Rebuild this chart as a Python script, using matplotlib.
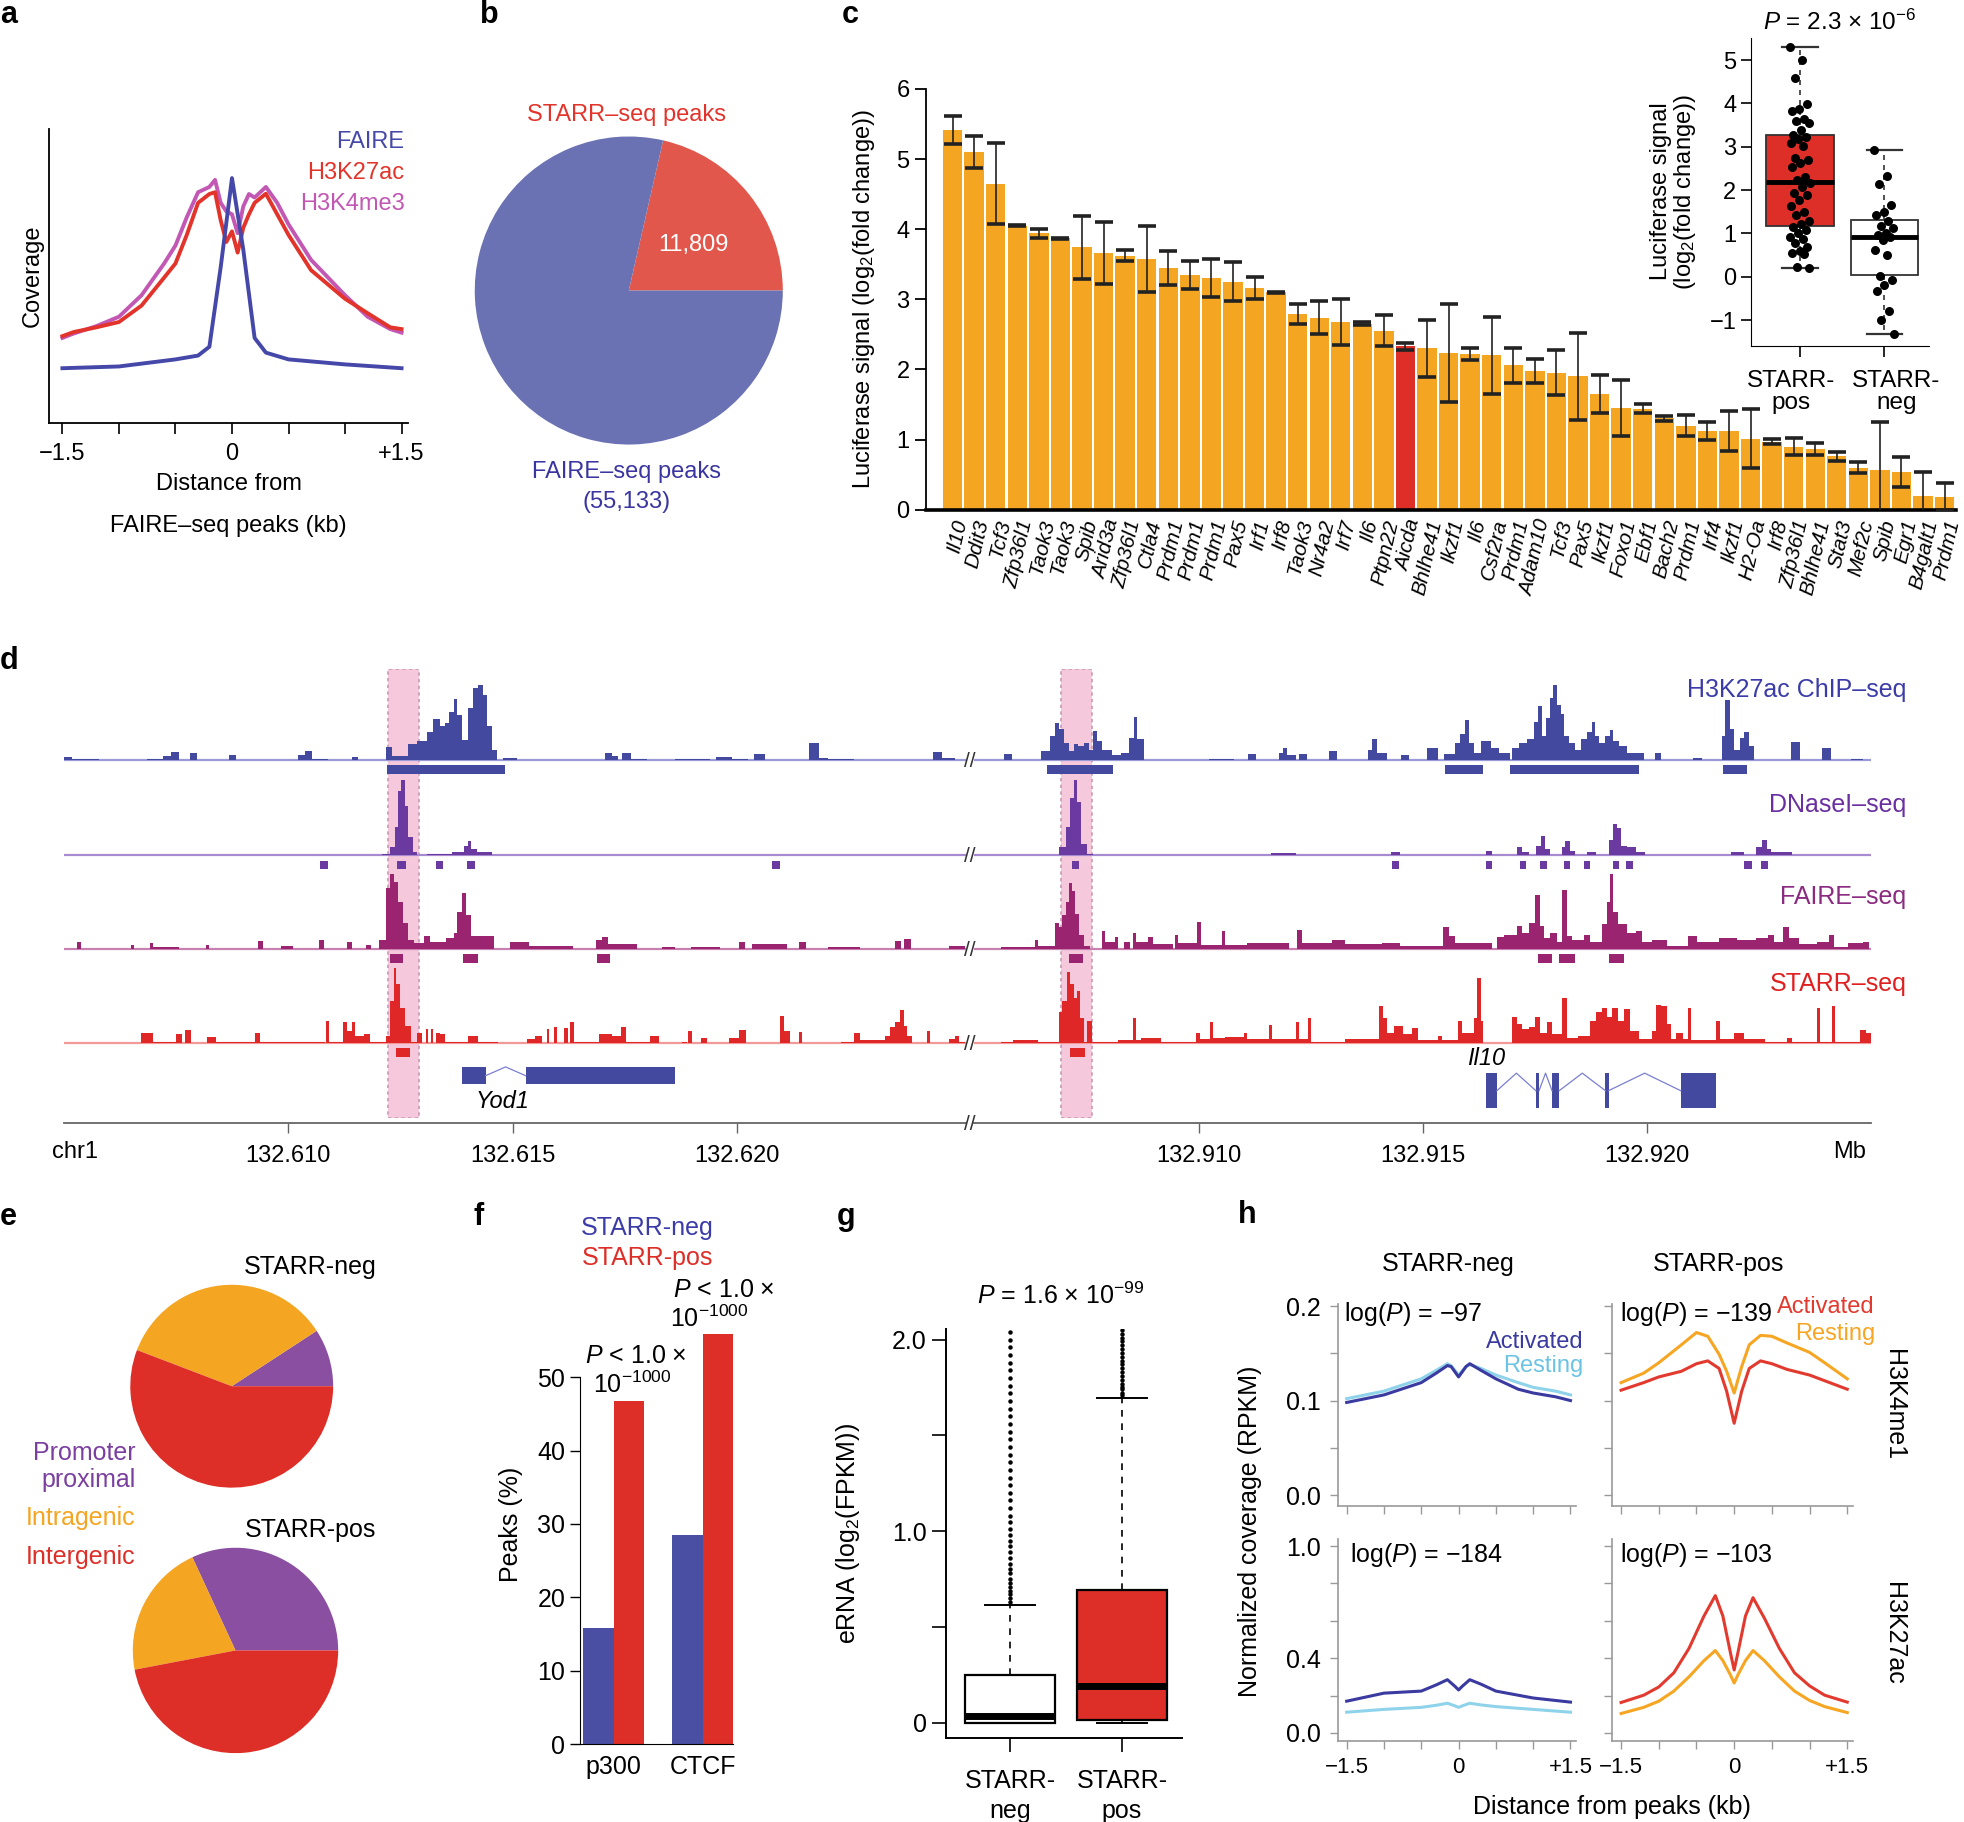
import numpy as np
import matplotlib
matplotlib.use('Agg')
import matplotlib.pyplot as plt
from matplotlib.patches import Rectangle

plt.rcParams['font.family'] = ['Liberation Sans', 'DejaVu Sans']
plt.rcParams['mathtext.fontset'] = 'custom'
plt.rcParams['mathtext.rm'] = 'Liberation Sans'
plt.rcParams['mathtext.it'] = 'Liberation Sans:italic'
plt.rcParams['axes.unicode_minus'] = True
NARROW = ['Liberation Sans', 'DejaVu Sans']

# ---------------- data ----------------
# panel a
a_faire_x = [-1.5, -1.0, -0.5, -0.3, -0.2, -0.1, 0, 0.1, 0.2, 0.3, 0.5, 1.0, 1.5]
a_faire_y = [0.187, 0.193, 0.217, 0.23, 0.26, 0.53, 0.833, 0.59, 0.29, 0.24, 0.217, 0.20, 0.187]
a_hist_x = [-1.5, -1.4, -1.2, -1.0, -0.8, -0.6, -0.5, -0.4, -0.3, -0.2, -0.15, -0.1, -0.05, 0,
            0.05, 0.1, 0.15, 0.2, 0.3, 0.4, 0.5, 0.7, 1.0, 1.2, 1.4, 1.5]
a_h3k27ac_y = [0.296, 0.31, 0.326, 0.344, 0.40, 0.495, 0.543, 0.64, 0.749, 0.779, 0.785, 0.69, 0.616,
               0.652, 0.58, 0.664, 0.71, 0.749, 0.78, 0.71, 0.64, 0.52, 0.423, 0.374, 0.326, 0.32]
a_h3k4me3_y = [0.29, 0.305, 0.33, 0.362, 0.435, 0.543, 0.604, 0.70, 0.785, 0.803, 0.827, 0.749, 0.72,
               0.71, 0.646, 0.737, 0.779, 0.767, 0.803, 0.749, 0.676, 0.555, 0.435, 0.362, 0.32, 0.308]

# panel b
faire_total = 55133
starr_peaks = 11809

# panel c
genes = ['Il10', 'Ddit3', 'Tcf3', 'Zfp36l1', 'Taok3', 'Taok3', 'Spib', 'Arid3a', 'Zfp36l1', 'Ctla4',
         'Prdm1', 'Prdm1', 'Prdm1', 'Pax5', 'Irf1', 'Irf8', 'Taok3', 'Nr4a2', 'Irf7', 'Il6',
         'Ptpn22', 'Aicda', 'Bhlhe41', 'Ikzf1', 'Il6', 'Csf2ra', 'Prdm1', 'Adam10', 'Tcf3', 'Pax5',
         'Ikzf1', 'Foxo1', 'Ebf1', 'Bach2', 'Prdm1', 'Irf4', 'Ikzf1', 'H2-Oa', 'Irf8', 'Zfp36l1',
         'Bhlhe41', 'Stat3', 'Mef2c', 'Spib', 'Egr1', 'B4galt1', 'Prdm1']
luc_mean = [5.42, 5.10, 4.65, 4.05, 3.94, 3.87, 3.74, 3.66, 3.62, 3.58,
            3.45, 3.35, 3.30, 3.25, 3.16, 3.10, 2.79, 2.74, 2.68, 2.65,
            2.55, 2.33, 2.30, 2.23, 2.22, 2.20, 2.06, 1.98, 1.95, 1.90,
            1.65, 1.45, 1.44, 1.30, 1.20, 1.12, 1.12, 1.01, 0.97, 0.90,
            0.86, 0.76, 0.60, 0.56, 0.54, 0.20, 0.18]
luc_err = [0.20, 0.23, 0.58, 0.01, 0.065, 0.01, 0.45, 0.44, 0.08, 0.47,
           0.24, 0.20, 0.27, 0.28, 0.155, 0.01, 0.14, 0.23, 0.33, 0.02,
           0.22, 0.05, 0.41, 0.70, 0.08, 0.55, 0.25, 0.17, 0.32, 0.62,
           0.27, 0.40, 0.065, 0.04, 0.15, 0.13, 0.28, 0.42, 0.04, 0.12,
           0.085, 0.06, 0.08, 0.69, 0.21, 0.34, 0.20]
highlight_gene = 'Aicda'
inset_groups = ['STARR-\npos', 'STARR-\nneg']
inset_pos_pts = [5.31, 5.0, 4.58, 3.98, 3.88, 3.83, 3.65, 3.6, 3.54, 3.38, 3.27, 3.22, 3.17, 3.08, 3.02,
                 2.73, 2.69, 2.62, 2.54, 2.31, 2.23, 2.17, 2.06, 1.94, 1.88, 1.77, 1.63, 1.5, 1.42,
                 1.29, 1.22, 1.15, 1.08, 1.02, 0.92, 0.86, 0.78, 0.69, 0.6, 0.55, 0.52, 0.23, 0.19]
inset_neg_pts = [2.93, 2.32, 2.15, 1.65, 1.50, 1.42, 1.28, 1.18, 1.12, 1.02, 0.97, 0.92, 0.85, 0.62,
                 0.50, 0.02, -0.08, -0.18, -0.32, -0.80, -1.00, -1.32]
inset_pos_stats = dict(med=2.18, q1=1.16, q3=3.27, whislo=0.20, whishi=5.30)
inset_neg_stats = dict(med=0.92, q1=0.03, q3=1.32, whislo=-1.32, whishi=2.93)

# panel d (offsets in kb from segment start; (start, end, height %))
seg_start_kb = [132605.0, 132905.0]
seg_len_kb = [20.1, 20.0]
h3k27ac_left = [(0.00, 0.18, 4), (0.18, 0.79, 1), (1.85, 2.21, 1), (2.21, 2.39, 5), (2.39, 2.56, 11),
                (2.80, 2.96, 10), (3.67, 3.84, 7), (5.21, 5.37, 7), (5.37, 5.54, 12), (5.54, 5.89, 2),
                (6.42, 6.56, 4), (7.17, 7.31, 17), (7.31, 7.67, 5), (7.67, 7.88, 22), (7.88, 8.09, 25),
                (8.09, 8.23, 38), (8.23, 8.38, 55), (8.38, 8.49, 45), (8.49, 8.59, 50), (8.59, 8.69, 64),
                (8.69, 8.77, 82), (8.77, 8.87, 60), (8.87, 9.01, 27), (9.01, 9.11, 69), (9.11, 9.23, 96),
                (9.23, 9.34, 100), (9.34, 9.44, 87), (9.44, 9.54, 45), (9.54, 9.65, 13), (9.79, 10.11, 3),
                (12.06, 12.21, 10), (12.21, 12.35, 5), (12.45, 12.63, 10), (12.63, 12.99, 2),
                (13.62, 14.40, 1), (14.54, 14.90, 4), (14.90, 15.25, 2), (15.39, 15.62, 8),
                (16.60, 16.82, 23), (16.82, 17.03, 3), (17.03, 17.60, 2), (19.37, 19.58, 11),
                (19.58, 19.87, 3)]
h3k27ac_right = [(0.66, 0.84, 8), (1.48, 1.69, 12), (1.69, 1.80, 32), (1.80, 1.89, 49), (1.89, 1.99, 42),
                 (1.99, 2.10, 23), (2.10, 2.21, 12), (2.21, 2.30, 21), (2.30, 2.44, 19), (2.44, 2.55, 23),
                 (2.55, 2.65, 14), (2.65, 2.74, 39), (2.74, 2.85, 25), (2.85, 3.06, 14), (3.06, 3.26, 7),
                 (3.26, 3.44, 9), (3.44, 3.55, 30), (3.55, 3.63, 58), (3.63, 3.77, 28), (5.23, 5.79, 1),
                 (6.09, 6.27, 8), (6.79, 6.89, 9), (6.89, 6.97, 16), (6.97, 7.16, 7), (7.24, 7.41, 8),
                 (7.91, 8.09, 12), (8.78, 8.87, 14), (8.87, 8.97, 28), (8.97, 9.21, 9), (9.51, 9.68, 7),
                 (10.10, 10.34, 16), (10.47, 10.72, 8), (10.72, 10.83, 23), (10.83, 10.94, 35),
                 (10.94, 11.02, 53), (11.02, 11.13, 23), (11.13, 11.29, 9), (11.29, 11.51, 25),
                 (11.51, 11.70, 16), (11.70, 11.95, 9), (11.98, 12.15, 16), (12.15, 12.33, 23),
                 (12.33, 12.47, 28), (12.47, 12.56, 51), (12.56, 12.66, 72), (12.66, 12.74, 32),
                 (12.74, 12.84, 56), (12.84, 12.91, 83), (12.91, 12.99, 100), (12.99, 13.07, 74),
                 (13.07, 13.15, 62), (13.15, 13.25, 32), (13.25, 13.39, 23), (13.39, 13.52, 14),
                 (13.52, 13.66, 28), (13.66, 13.76, 37), (13.76, 13.84, 51), (13.84, 13.93, 32),
                 (13.93, 14.07, 23), (14.07, 14.17, 32), (14.17, 14.25, 40), (14.25, 14.38, 25),
                 (14.38, 14.55, 19), (14.55, 14.75, 9), (14.75, 14.93, 10), (15.17, 15.30, 9),
                 (16.03, 16.22, 3), (16.67, 16.74, 32), (16.74, 16.85, 80), (16.85, 16.94, 42),
                 (16.94, 17.08, 14), (17.08, 17.17, 30), (17.17, 17.28, 38), (17.28, 17.39, 19),
                 (18.21, 18.41, 24), (18.90, 19.09, 16), (19.54, 19.82, 2)]
dnase_left = [(0.86, 1.00, 1), (5.75, 5.85, 1), (7.10, 7.27, 2), (7.27, 7.38, 11), (7.38, 7.45, 38),
              (7.45, 7.52, 85), (7.52, 7.60, 100), (7.60, 7.67, 66), (7.67, 7.78, 25), (7.78, 7.88, 4),
              (8.09, 8.66, 2), (8.66, 8.91, 5), (8.91, 9.01, 13), (9.01, 9.08, 19), (9.08, 9.20, 8),
              (9.20, 9.54, 4), (13.06, 13.20, 1), (15.82, 15.92, 1), (19.58, 19.72, 1)]
dnase_right = [(0.60, 1.89, 1), (1.89, 2.03, 11), (2.03, 2.13, 38), (2.13, 2.21, 76), (2.21, 2.29, 100),
               (2.29, 2.37, 71), (2.37, 2.51, 15), (2.51, 2.65, 2), (6.61, 7.16, 3), (9.28, 9.49, 4),
               (11.40, 11.54, 6), (12.09, 12.22, 11), (12.22, 12.36, 5), (12.52, 12.63, 13),
               (12.63, 12.73, 26), (12.73, 12.84, 8), (13.11, 13.18, 11), (13.18, 13.28, 19),
               (13.28, 13.39, 6), (13.66, 13.86, 5), (14.14, 14.23, 20), (14.23, 14.32, 41),
               (14.32, 14.41, 36), (14.41, 14.55, 13), (14.55, 14.75, 11), (14.75, 14.96, 4),
               (16.87, 17.15, 5), (17.42, 17.56, 11), (17.56, 17.67, 20), (17.67, 17.76, 8),
               (17.76, 18.24, 4)]
faire_left = [(0.29, 0.38, 9), (1.50, 1.57, 6), (1.92, 1.99, 8), (1.99, 2.56, 3), (3.16, 3.24, 6),
              (4.33, 4.43, 11), (4.83, 5.11, 4), (5.68, 5.79, 12), (6.32, 6.42, 10), (6.74, 6.84, 6),
              (7.03, 7.17, 12), (7.17, 7.27, 81), (7.27, 7.35, 100), (7.35, 7.45, 90), (7.45, 7.55, 63),
              (7.55, 7.67, 35), (7.67, 7.81, 12), (7.81, 8.02, 8), (8.02, 8.16, 17), (8.16, 8.52, 10),
              (8.52, 8.69, 15), (8.69, 8.77, 22), (8.77, 8.87, 49), (8.87, 8.97, 75), (8.97, 9.08, 45),
              (9.08, 9.23, 17), (9.23, 9.58, 17), (9.94, 10.36, 9), (10.36, 11.35, 4), (11.85, 11.99, 12),
              (11.99, 12.13, 16), (12.13, 12.77, 7), (13.34, 13.62, 3), (13.98, 14.62, 3),
              (15.04, 15.18, 10), (15.33, 16.11, 7), (16.39, 16.53, 10), (17.03, 17.74, 3),
              (18.52, 18.66, 11), (18.73, 18.87, 13), (19.72, 20.08, 4)]
faire_right = [(0.60, 1.35, 3), (1.35, 1.42, 12), (1.42, 1.80, 4), (1.80, 1.89, 35), (1.89, 1.96, 29),
               (1.96, 2.03, 45), (2.03, 2.10, 63), (2.10, 2.17, 88), (2.17, 2.24, 77), (2.24, 2.33, 47),
               (2.33, 2.44, 19), (2.44, 2.58, 4), (2.85, 2.92, 24), (2.92, 3.13, 9), (3.13, 3.19, 16),
               (3.33, 3.47, 10), (3.54, 3.60, 21), (3.60, 3.88, 10), (3.88, 3.99, 16), (3.99, 4.43, 7),
               (4.47, 4.53, 19), (4.53, 4.97, 8), (4.97, 5.05, 36), (5.05, 5.52, 6), (5.52, 5.59, 24),
               (5.59, 6.07, 6), (6.07, 7.02, 8), (7.19, 7.30, 26), (7.30, 7.98, 8), (7.98, 8.26, 12),
               (8.26, 9.08, 7), (9.08, 9.49, 8), (9.49, 10.45, 4), (10.45, 10.58, 30), (10.58, 10.72, 17),
               (10.72, 11.54, 8), (11.65, 11.81, 16), (11.81, 12.09, 19), (12.09, 12.22, 31),
               (12.22, 12.36, 22), (12.36, 12.50, 35), (12.50, 12.61, 72), (12.61, 12.70, 31),
               (12.70, 12.84, 15), (12.84, 12.98, 22), (12.98, 13.11, 10), (13.11, 13.21, 79),
               (13.21, 13.32, 17), (13.32, 13.59, 12), (13.59, 13.73, 19), (13.73, 14.00, 10),
               (14.00, 14.11, 33), (14.11, 14.18, 63), (14.18, 14.25, 100), (14.25, 14.34, 49),
               (14.34, 14.55, 33), (14.55, 14.75, 22), (14.75, 14.89, 24), (14.89, 15.10, 10),
               (15.10, 15.44, 12), (15.44, 15.92, 4), (15.92, 16.12, 17), (16.12, 16.60, 10),
               (16.60, 17.01, 15), (17.01, 17.42, 12), (17.42, 17.70, 15), (17.70, 17.83, 19),
               (17.83, 18.04, 10), (18.04, 18.17, 29), (18.17, 18.38, 15), (18.38, 18.79, 7),
               (18.79, 19.06, 10), (19.06, 19.16, 19), (19.16, 19.47, 3), (19.47, 19.82, 8),
               (19.82, 19.95, 10)]
starr_left = [(1.71, 1.99, 14), (1.99, 2.49, 2), (2.49, 2.63, 12), (2.70, 2.84, 18), (3.20, 3.38, 8),
              (3.38, 4.26, 1), (4.26, 4.36, 14), (4.36, 5.54, 1), (5.54, 5.82, 2), (5.85, 5.92, 30),
              (5.92, 6.21, 2), (6.21, 6.32, 28), (6.32, 6.42, 16), (6.42, 6.49, 28), (6.49, 6.70, 9),
              (6.70, 6.82, 12), (6.82, 7.17, 2), (7.17, 7.27, 9), (7.27, 7.35, 56), (7.35, 7.41, 100),
              (7.41, 7.50, 79), (7.50, 7.60, 47), (7.60, 7.74, 23), (7.74, 7.88, 2), (7.88, 7.98, 14),
              (8.06, 8.12, 19), (8.18, 8.23, 19), (8.30, 8.38, 14), (8.38, 8.49, 12), (8.49, 9.01, 2),
              (9.01, 9.23, 9), (9.23, 9.68, 2), (10.33, 10.50, 6), (10.50, 10.65, 9), (10.76, 10.82, 19),
              (10.93, 11.00, 21), (11.14, 11.24, 20), (11.28, 11.38, 28), (11.38, 11.92, 2),
              (11.92, 12.21, 12), (12.21, 12.42, 9), (12.42, 12.52, 22), (12.52, 13.06, 2),
              (13.06, 13.27, 9), (13.77, 13.88, 2), (13.91, 14.01, 16), (14.19, 14.33, 7),
              (14.83, 15.04, 7), (15.04, 15.21, 18), (15.96, 16.06, 36), (16.06, 16.18, 16),
              (16.39, 16.46, 15), (17.31, 17.60, 2), (17.60, 17.74, 14), (17.74, 18.30, 4),
              (18.30, 18.42, 9), (18.42, 18.52, 21), (18.52, 18.63, 28), (18.63, 18.73, 44),
              (18.73, 18.80, 23), (18.80, 18.90, 9), (19.23, 19.30, 16), (19.72, 19.87, 6),
              (19.87, 19.96, 10), (19.96, 20.08, 2)]
starr_right = [(0.60, 0.87, 1), (0.87, 1.42, 4), (1.42, 1.89, 2), (1.89, 1.96, 42), (1.96, 2.07, 56),
               (2.07, 2.14, 95), (2.14, 2.21, 79), (2.21, 2.28, 60), (2.28, 2.35, 70), (2.35, 2.44, 33),
               (2.44, 2.51, 2), (2.51, 2.62, 30), (2.62, 3.19, 2), (3.19, 3.54, 4), (3.54, 3.60, 33),
               (3.60, 3.71, 4), (3.71, 4.15, 7), (4.15, 4.95, 2), (4.95, 5.04, 14), (5.04, 5.25, 6),
               (5.25, 5.31, 28), (5.31, 5.59, 7), (5.59, 6.00, 8), (6.00, 6.07, 14), (6.07, 6.57, 5),
               (6.57, 6.64, 24), (6.64, 7.16, 6), (7.16, 7.23, 28), (7.23, 7.44, 5), (7.44, 7.50, 33),
               (7.50, 8.26, 2), (8.26, 9.01, 5), (9.01, 9.10, 49), (9.10, 9.19, 33), (9.19, 9.35, 14),
               (9.35, 9.56, 23), (9.56, 9.76, 12), (9.76, 9.90, 20), (9.90, 10.34, 4), (10.34, 10.42, 10),
               (10.42, 10.79, 4), (10.79, 10.88, 29), (10.88, 11.13, 14), (11.13, 11.21, 33),
               (11.21, 11.29, 86), (11.29, 11.33, 30), (11.98, 12.09, 35), (12.09, 12.22, 26),
               (12.22, 12.36, 19), (12.36, 12.50, 21), (12.50, 12.61, 35), (12.61, 12.77, 14),
               (12.77, 12.88, 28), (12.88, 13.11, 12), (13.11, 13.21, 60), (13.21, 13.45, 7),
               (13.45, 13.73, 9), (13.73, 13.86, 30), (13.86, 14.00, 42), (14.00, 14.10, 47),
               (14.10, 14.21, 35), (14.21, 14.34, 47), (14.34, 14.48, 29), (14.48, 14.62, 45),
               (14.62, 14.82, 16), (14.82, 15.10, 6), (15.10, 15.20, 16), (15.20, 15.30, 51),
               (15.30, 15.44, 49), (15.44, 15.53, 26), (15.53, 15.64, 6), (15.64, 15.81, 14),
               (15.81, 15.92, 6), (15.92, 15.98, 47), (15.98, 16.53, 4), (16.53, 16.63, 30),
               (16.63, 16.94, 6), (16.94, 17.15, 14), (17.15, 17.63, 6), (17.63, 18.13, 1),
               (18.13, 18.24, 7), (18.24, 18.79, 1), (18.79, 18.86, 47), (18.86, 19.13, 1),
               (19.13, 19.20, 50), (19.20, 19.75, 1), (19.75, 19.88, 18), (19.88, 19.99, 13)]
h3k27ac_peaks = [[(7.20, 9.84)], [(1.62, 3.09), (10.49, 11.33), (11.95, 14.82), (16.70, 17.22)]]
dnase_peaks = [[(5.71, 5.88), (7.43, 7.62), (8.30, 8.46), (8.98, 9.16), (15.78, 15.95)],
               [(2.17, 2.33), (9.31, 9.46), (11.40, 11.54), (12.16, 12.29), (12.62, 12.77),
                (13.15, 13.29), (13.59, 13.73), (14.25, 14.38), (14.52, 14.69), (17.17, 17.34),
                (17.53, 17.70)]]
faire_peaks = [[(7.27, 7.56), (8.89, 9.23), (11.88, 12.18)],
               [(2.10, 2.41), (12.56, 12.88), (13.04, 13.39), (14.14, 14.48)]]
starr_peaks_d = [[(7.41, 7.71)], [(2.13, 2.47)]]
highlight_kb = [(7.23, 7.91), (1.92, 2.62)]
yod1_exons = [(8.87, 9.40), (10.29, 13.62)]
il10_exons = [(11.40, 11.65), (12.52, 12.59), (12.88, 13.04), (14.07, 14.14), (15.75, 16.53)]
axis_ticks_mb = [[132.610, 132.615, 132.620], [132.910, 132.915, 132.920]]

# panel e
region_labels = ['Promoter proximal', 'Intragenic', 'Intergenic']
e_neg_frac = [9.2, 35.0, 55.8]
e_pos_frac = [31.9, 21.1, 47.0]

# panel f
f_groups = ['p300', 'CTCF']
f_neg = [15.8, 28.5]
f_pos = [46.7, 55.8]

# panel g
g_neg_stats = dict(med=0.036, q1=0.0, q3=0.249, whislo=0.0, whishi=0.617)
g_pos_stats = dict(med=0.19, q1=0.017, q3=0.695, whislo=0.0, whishi=1.697)
g_neg_fliers = [0.63, 0.65, 0.67, 0.69, 0.71, 0.73, 0.75, 0.78, 0.80, 0.83, 0.86, 0.89, 0.92, 0.95, 0.98,
                1.01, 1.05, 1.08, 1.12, 1.16, 1.20, 1.24, 1.28, 1.32, 1.36, 1.40, 1.44, 1.48, 1.52, 1.56,
                1.60, 1.64, 1.68, 1.72, 1.76, 1.80, 1.84, 1.88, 1.92, 1.96, 2.00, 2.04]
g_pos_fliers = [1.71, 1.72, 1.74, 1.75, 1.77, 1.79, 1.81, 1.83, 1.85, 1.87, 1.89, 1.91, 1.93, 1.95,
                1.97, 1.99, 2.01, 2.03, 2.05]

# panel h
h_tl_x = [-1.5, -1.0, -0.5, -0.3, -0.15, -0.1, 0, 0.1, 0.15, 0.3, 0.5, 0.8, 1.0, 1.3, 1.5]
h_tl_act = [0.098, 0.106, 0.119, 0.129, 0.137, 0.136, 0.125, 0.136, 0.139, 0.132, 0.123, 0.112, 0.108, 0.104, 0.100]
h_tl_rest = [0.102, 0.110, 0.123, 0.132, 0.139, 0.137, 0.127, 0.136, 0.138, 0.134, 0.127, 0.119, 0.114, 0.110, 0.106]
h_tr_x = [-1.5, -1.2, -1.0, -0.7, -0.5, -0.35, -0.2, -0.1, 0, 0.1, 0.2, 0.35, 0.5, 0.7, 1.0, 1.2, 1.5]
h_tr_rest = [0.119, 0.129, 0.140, 0.159, 0.172, 0.168, 0.149, 0.131, 0.108, 0.136, 0.159, 0.169, 0.168, 0.161, 0.151, 0.140, 0.123]
h_tr_act = [0.111, 0.119, 0.125, 0.131, 0.139, 0.142, 0.134, 0.110, 0.076, 0.110, 0.134, 0.142, 0.139, 0.133, 0.127, 0.121, 0.112]
h_bl_x = [-1.5, -1.0, -0.5, -0.3, -0.15, -0.05, 0, 0.05, 0.15, 0.3, 0.5, 1.0, 1.5]
h_bl_act = [0.170, 0.213, 0.224, 0.257, 0.285, 0.250, 0.230, 0.250, 0.285, 0.261, 0.224, 0.187, 0.165]
h_bl_rest = [0.111, 0.126, 0.137, 0.148, 0.159, 0.145, 0.137, 0.145, 0.159, 0.150, 0.141, 0.126, 0.111]
h_br_x = [-1.5, -1.2, -1.0, -0.8, -0.6, -0.4, -0.25, -0.15, -0.05, 0, 0.05, 0.15, 0.25, 0.4, 0.6, 0.8, 1.0, 1.2, 1.5]
h_br_act = [0.163, 0.202, 0.246, 0.322, 0.452, 0.626, 0.735, 0.626, 0.430, 0.337, 0.430, 0.626, 0.724, 0.615, 0.452, 0.322, 0.252, 0.202, 0.165]
h_br_rest = [0.104, 0.137, 0.170, 0.224, 0.300, 0.387, 0.441, 0.387, 0.311, 0.267, 0.311, 0.387, 0.441, 0.387, 0.300, 0.224, 0.174, 0.141, 0.109]

# ---------------- colours ----------------
BLUE = '#4a4fa3'
RED = '#dd2e27'
ORANGE = '#f4a521'
PURPLE = '#8a4fa0'
MAGENTA = '#c257b4'

W, H = 1568, 1455
fig = plt.figure(figsize=(19.64, 18.22), dpi=100)


def fa(x0, y0, x1, y1, **kw):
    return fig.add_axes([x0 / W, 1 - y1 / H, (x1 - x0) / W, (y1 - y0) / H], **kw)


def ft(x, y, s, **kw):
    return fig.text(x / W, 1 - y / H, s, **kw)


def panel_label(x, y, s):
    ft(x, y, s, fontsize=22, fontweight='bold', ha='left', va='center')


TIMES = '\u00d7'
MINUS = '\u2212'

# ---------------- panel a ----------------
panel_label(0, 12, 'a')
ax = fa(39, 103, 326, 338)
ax.plot(a_hist_x, a_h3k4me3_y, color=MAGENTA, lw=2.8)
ax.plot(a_hist_x, a_h3k27ac_y, color='#e2342b', lw=2.8)
ax.plot(a_faire_x, a_faire_y, color='#4548a8', lw=2.8)
ax.set_xlim(-1.62, 1.56)
ax.set_ylim(0, 1)
ax.set_yticks([])
ax.set_xticks([-1.5, -1.0, -0.5, 0, 0.5, 1.0, 1.5])
ax.set_xticklabels([MINUS + '1.5', '', '', '0', '', '', '+1.5'], fontsize=17)
ax.tick_params(axis='x', length=8, width=1.2, pad=6)
for s in ['top', 'right']:
    ax.spines[s].set_visible(False)
for s in ['left', 'bottom']:
    ax.spines[s].set_linewidth(1.3)
ax.set_ylabel('Coverage', fontsize=17, labelpad=4)
ax.set_xlabel('Distance from\n\nFAIRE\u2013seq peaks (kb)', fontsize=17, linespacing=0.95, labelpad=6)
ft(323, 113, 'FAIRE', color='#4548a8', fontsize=17, ha='right', va='center')
ft(323, 138, 'H3K27ac', color='#e2342b', fontsize=17, ha='right', va='center')
ft(323, 163, 'H3K4me3', color=MAGENTA, fontsize=17, ha='right', va='center')

# ---------------- panel b ----------------
panel_label(383, 12, 'b')
ax = fa(379, 109, 625, 355)
ax.pie([starr_peaks, faire_total - starr_peaks], colors=['#e2574c', '#6b72b3'],
       startangle=0, counterclock=True, radius=1.0)
ax.set_xlim(-1.0, 1.0)
ax.set_ylim(-1.0, 1.0)
ax.set_aspect('equal')
ft(554, 196, f'{starr_peaks:,}', color='white', fontsize=17, ha='center', va='center')
ft(500, 92, 'STARR\u2013seq peaks', color='#e2342b', fontsize=17, ha='center', va='center')
ft(500, 377, 'FAIRE\u2013seq peaks', color='#3a35a0', fontsize=17, ha='center', va='center')
ft(500, 401, f'({faire_total:,})', color='#3a35a0', fontsize=17, ha='center', va='center')

# ---------------- panel c ----------------
panel_label(672, 12, 'c')
ax = fa(739, 71, 1562, 407)
xs = np.arange(len(genes))
cols = [RED if g == highlight_gene else ORANGE for g in genes]
ax.bar(xs, luc_mean, width=0.9, color=cols, linewidth=0, zorder=2)
ax.errorbar(xs, luc_mean, yerr=luc_err, fmt='none', ecolor='#222222', elinewidth=1.2,
            capsize=6.5, capthick=2.6, zorder=3)
ax.set_xlim(-1.25, 46.55)
ax.set_ylim(0, 6)
ax.set_yticks(range(7))
ax.tick_params(axis='y', labelsize=17, length=8, width=1.3)
ax.set_xticks(xs)
ax.set_xticklabels(genes, rotation=77, fontstyle='italic', fontsize=15, ha='right',
                   va='top', rotation_mode='anchor')
ax.tick_params(axis='x', length=0, pad=6)
for s in ['top', 'right']:
    ax.spines[s].set_visible(False)
ax.spines['left'].set_linewidth(1.3)
ax.spines['bottom'].set_linewidth(2.6)
ax.set_ylabel('Luciferase signal (log$_2$(fold change))', fontsize=17, labelpad=14)

# inset box plot
ax = fa(1398, 30, 1540, 276)
bp = ax.bxp([dict(inset_pos_stats, fliers=[]), dict(inset_neg_stats, fliers=[])], positions=[1, 2],
            widths=0.8, patch_artist=True, showfliers=False, capwidths=0.42,
            boxprops=dict(linewidth=1.3, edgecolor='#333333'),
            medianprops=dict(color='black', linewidth=3.5),
            whiskerprops=dict(linestyle=(0, (3, 3)), linewidth=1.2, color='#333333'),
            capprops=dict(linewidth=1.6, color='#333333'))
bp['boxes'][0].set_facecolor(RED)
bp['boxes'][1].set_facecolor('white')
for k, pts in enumerate([inset_pos_pts, inset_neg_pts]):
    jit = [((i * 0.6180339) % 1.0 - 0.5) * 0.24 for i in range(len(pts))]
    ax.scatter(np.array(jit) + k + 1, pts, s=42, color='black', zorder=4, linewidths=0)
ax.set_xlim(0.42, 2.53)
ax.set_ylim(-1.59, 5.52)
ax.set_yticks(range(-1, 6))
ax.set_xticks([1, 2])
ax.set_xticklabels([])
ax.tick_params(axis='y', labelsize=17, length=7, width=1.2)
ax.tick_params(axis='x', length=8, width=1.2)
for s in ['top', 'right']:
    ax.spines[s].set_visible(False)
ax.set_ylabel('Luciferase signal\n(log$_2$(fold change))', fontsize=17, labelpad=8, linespacing=1.0)
ft(1430, 313, inset_groups[0], fontsize=17.5, ha='center', va='center', linespacing=1.05)
ft(1514, 313, inset_groups[1], fontsize=17.5, ha='center', va='center', linespacing=1.05)
ft(1469, 18, '$P$ = 2.3 ' + TIMES + ' 10$^{-6}$', fontsize=17.5, ha='center', va='center')

# ---------------- panel d ----------------
panel_label(0, 528, 'd')
seg_x = [(51, 771), (778, 1494)]
track_specs = [
    ('H3K27ac ChIP\u2013seq', [h3k27ac_left, h3k27ac_right], h3k27ac_peaks, '#4449a0', '#9a9ad8', '#3c3ca8', 607, 551),
    ('DNaseI\u2013seq', [dnase_left, dnase_right], dnase_peaks, '#6b3aa0', '#a88ad0', '#6a2fa0', 683, 643),
    ('FAIRE\u2013seq', [faire_left, faire_right], faire_peaks, '#9b2470', '#c880b0', '#8a2a80', 758, 716),
    ('STARR\u2013seq', [starr_left, starr_right], starr_peaks_d, '#e02727', '#f29a9a', '#e02020', 833, 786),
]


def seg_xlim(k):
    return (seg_start_kb[k] / 1000, (seg_start_kb[k] + seg_len_kb[k]) / 1000)


for k in range(2):
    axh = fa(seg_x[k][0], 534, seg_x[k][1], 893)
    axh.set_xlim(*seg_xlim(k))
    axh.set_ylim(0, 1)
    axh.axis('off')
    s0, s1 = highlight_kb[k]
    axh.add_patch(Rectangle(((seg_start_kb[k] + s0) / 1000, 0), (s1 - s0) / 1000, 1,
                            facecolor='#f5c8dc', edgecolor='#c89ab4', linestyle=(0, (2, 2)),
                            linewidth=1.2, zorder=0))

for name, data, peaks, col, basecol, labcol, yb, ylab in track_specs:
    for k in range(2):
        axt = fa(seg_x[k][0], yb - 61.5, seg_x[k][1], yb + 14)
        axt.patch.set_alpha(0)
        axt.set_xlim(*seg_xlim(k))
        axt.set_ylim(-23.3, 102.5)
        axt.axis('off')
        axt.axhline(0, color=basecol, lw=1.6, zorder=1)
        st = seg_start_kb[k]
        for s, e, h in data[k]:
            axt.bar((st + s) / 1000, h, width=(e - s) / 1000, align='edge', color=col,
                    linewidth=0, zorder=2)
        for s, e in peaks[k]:
            axt.add_patch(Rectangle(((st + s) / 1000, -18), (e - s) / 1000, 11, facecolor=col,
                                    edgecolor='none', zorder=2))
    ft(1522, ylab, name, color=labcol, fontsize=18, ha='right', va='center', family=NARROW)
    ft(774, yb + 1, '//', fontsize=15, ha='center', va='center', color='#333333', family=NARROW)

for k, exons, gname, ex_top, ex_bot, lab_y in [(0, yod1_exons, 'Yod1', 852, 866, 880),
                                              (1, il10_exons, 'Il10', 857, 885, 845)]:
    axg = fa(seg_x[k][0], 838, seg_x[k][1], 893)
    axg.patch.set_alpha(0)
    axg.set_xlim(*seg_xlim(k))
    axg.set_ylim(893, 838)
    axg.axis('off')
    st = seg_start_kb[k]
    mid = (ex_top + ex_bot) / 2
    for s, e in exons:
        axg.add_patch(Rectangle(((st + s) / 1000, ex_top), (e - s) / 1000, ex_bot - ex_top,
                                facecolor='#4449a0', edgecolor='none'))
    for (s0, e0), (s1, e1) in zip(exons[:-1], exons[1:]):
        xa, xb = (st + e0) / 1000, (st + s1) / 1000
        axg.plot([xa, (xa + xb) / 2, xb], [mid, ex_top, mid], color='#7a7fd0', lw=0.9)
    lab_x = (st + exons[0][0]) / 1000 + (0.0009 if k == 0 else 0.0)
    axg.text(lab_x, lab_y, gname, fontstyle='italic', fontsize=17, ha='center', va='center',
             family=NARROW)

for k in range(2):
    axs = fa(seg_x[k][0], 880, seg_x[k][1], 897)
    axs.patch.set_alpha(0)
    axs.set_xlim(*seg_xlim(k))
    axs.set_yticks([])
    for s in ['top', 'right', 'left']:
        axs.spines[s].set_visible(False)
    axs.spines['bottom'].set_color('#666666')
    axs.spines['bottom'].set_linewidth(1.3)
    axs.set_xticks(axis_ticks_mb[k])
    axs.set_xticklabels([f'{t:.3f}' for t in axis_ticks_mb[k]], fontsize=17, family=NARROW)
    axs.tick_params(axis='x', length=7, width=1.0, color='#666666', pad=9)
ft(774, 898, '//', fontsize=15, ha='center', va='center', color='#333333', family=NARROW)
ft(60, 920, 'chr1', fontsize=17, ha='center', va='center', family=NARROW)
ft(1477, 920, 'Mb', fontsize=17, ha='center', va='center', family=NARROW)

# ---------------- panel e ----------------
panel_label(0, 972, 'e')
pie_cols = [PURPLE, ORANGE, RED]
for frac, box in [(e_neg_frac, (104, 1026, 266, 1188)), (e_pos_frac, (106, 1236, 270, 1400))]:
    ax = fa(*box)
    ax.pie(frac, colors=pie_cols, startangle=0, counterclock=True)
    ax.set_xlim(-1.0, 1.0)
    ax.set_ylim(-1.0, 1.0)
    ax.set_aspect('equal')
ft(248, 1012, 'STARR-neg', fontsize=18, ha='center', va='center', family=NARROW)
ft(248, 1222, 'STARR-pos', fontsize=18, ha='center', va='center', family=NARROW)
ft(108, 1160, 'Promoter', color='#7b3fa0', fontsize=18, ha='right', va='center', family=NARROW)
ft(108, 1182, 'proximal', color='#7b3fa0', fontsize=18, ha='right', va='center', family=NARROW)
ft(108, 1212, region_labels[1], color=ORANGE, fontsize=18, ha='right', va='center', family=NARROW)
ft(108, 1243, region_labels[2], color=RED, fontsize=18, ha='right', va='center', family=NARROW)

# ---------------- panel f ----------------
panel_label(378, 972, 'f')
ax = fa(463, 1041, 585, 1393)
gx = np.arange(len(f_groups))
ax.bar(gx - 0.17, f_neg, width=0.34, color=BLUE, linewidth=0)
ax.bar(gx + 0.17, f_pos, width=0.34, color=RED, linewidth=0)
ax.set_xlim(-0.38, 1.34)
ax.set_ylim(0, 60)
ax.set_yticks([0, 10, 20, 30, 40, 50])
ax.spines['left'].set_bounds(0, 50)
for s in ['top', 'right']:
    ax.spines[s].set_visible(False)
ax.set_xticks(gx)
ax.set_xticklabels(f_groups, fontsize=18, family=NARROW)
ax.tick_params(axis='x', length=0, pad=8)
ax.tick_params(axis='y', labelsize=18, length=7, width=1.0)
ax.set_ylabel('Peaks (%)', fontsize=18, labelpad=10)
ft(517, 981, 'STARR-neg', color='#3c3ca8', fontsize=18, ha='center', va='center', family=NARROW)
ft(517, 1005, 'STARR-pos', color=RED, fontsize=18, ha='center', va='center', family=NARROW)
ft(508, 1083, '$P$ < 1.0 ' + TIMES, fontsize=18, ha='center', va='center')
ft(505, 1106, '10$^{-1000}$', fontsize=18, ha='center', va='center')
ft(578, 1030, '$P$ < 1.0 ' + TIMES, fontsize=18, ha='center', va='center')
ft(566, 1053, '10$^{-1000}$', fontsize=18, ha='center', va='center')

# ---------------- panel g ----------------
panel_label(668, 972, 'g')
ax = fa(755, 1061, 944, 1388)
bp = ax.bxp([dict(g_neg_stats, fliers=g_neg_fliers), dict(g_pos_stats, fliers=g_pos_fliers)],
            positions=[1, 2], widths=0.8, patch_artist=True, showfliers=True, capwidths=0.45,
            boxprops=dict(linewidth=1.6, edgecolor='black'),
            medianprops=dict(color='black', linewidth=5),
            whiskerprops=dict(linestyle=(0, (4, 4)), linewidth=1.2, color='black'),
            capprops=dict(linewidth=1.4, color='black'),
            flierprops=dict(marker='o', markersize=2.2, markerfacecolor='black',
                            markeredgecolor='black', linestyle='none'))
bp['boxes'][0].set_facecolor('white')
bp['boxes'][1].set_facecolor(RED)
ax.set_xlim(0.425, 2.54)
ax.set_ylim(-0.08, 2.057)
ax.set_yticks([0, 0.5, 1.0, 1.5, 2.0])
ax.set_yticklabels(['0', '', '1.0', '', '2.0'], fontsize=18, family=NARROW)
ax.set_xticks([1, 2])
ax.set_xticklabels(['STARR-\nneg', 'STARR-\npos'], fontsize=18, family=NARROW, linespacing=1.35)
ax.tick_params(axis='x', length=10, width=1.2, pad=12)
ax.tick_params(axis='y', length=10, width=1.2)
for s in ['top', 'right']:
    ax.spines[s].set_visible(False)
ax.spines['left'].set_linewidth(1.4)
ax.spines['bottom'].set_linewidth(1.4)
ax.set_ylabel('eRNA (log$_2$(FPKM))', fontsize=18, labelpad=22)
ft(847, 1035, '$P$ = 1.6 ' + TIMES + ' 10$^{-99}$', fontsize=18, ha='center', va='center')

# ---------------- panel h ----------------
panel_label(988, 970, 'h')
DBLUE = '#3a3aa0'
LBLUE = '#8fd3ea'
HRED = '#e23a2e'
HORANGE = '#f6a623'
h_axes = {
    'tl': fa(1068, 1041, 1258, 1202.5),
    'tr': fa(1287, 1041, 1479, 1202.5),
    'bl': fa(1068, 1229, 1258, 1390),
    'br': fa(1287, 1229, 1479, 1390),
}
h_axes['tl'].plot(h_tl_x, h_tl_rest, color=LBLUE, lw=2.2)
h_axes['tl'].plot(h_tl_x, h_tl_act, color=DBLUE, lw=2.2)
h_axes['tr'].plot(h_tr_x, h_tr_rest, color=HORANGE, lw=2.2)
h_axes['tr'].plot(h_tr_x, h_tr_act, color=HRED, lw=2.2)
h_axes['bl'].plot(h_bl_x, h_bl_rest, color=LBLUE, lw=2.2)
h_axes['bl'].plot(h_bl_x, h_bl_act, color=DBLUE, lw=2.2)
h_axes['br'].plot(h_br_x, h_br_rest, color=HORANGE, lw=2.2)
h_axes['br'].plot(h_br_x, h_br_act, color=HRED, lw=2.2)
for key, a in h_axes.items():
    a.set_xlim(-1.62, 1.57)
    top = key[0] == 't'
    if top:
        a.set_ylim(-0.0113, 0.2026)
        a.set_yticks([0, 0.05, 0.1, 0.15, 0.2])
        labs = ['0.0', '', '0.1', '', '0.2']
    else:
        a.set_ylim(-0.041, 1.038)
        a.set_yticks([0, 0.2, 0.4, 0.6, 0.8, 1.0])
        labs = ['0.0', '', '0.4', '', '', '1.0']
    a.set_xticks([-1.5, -1.0, -0.5, 0, 0.5, 1.0, 1.5])
    if key[1] == 'l':
        a.set_yticklabels(labs, fontsize=18, family=NARROW)
    else:
        a.set_yticklabels([])
    if not top:
        a.set_xticklabels([MINUS + '1.5', '', '', '0', '', '', '+1.5'], fontsize=16, family=NARROW)
    else:
        a.set_xticklabels([])
    for s in ['top', 'right']:
        a.spines[s].set_visible(False)
    for s in ['left', 'bottom']:
        a.spines[s].set_color('#999999')
        a.spines[s].set_linewidth(1.2)
    a.tick_params(length=6, width=1.0, color='#999999', pad=6)
ft(1073, 1049, 'log($P$) = ' + MINUS + '97', fontsize=18, ha='left', va='center')
ft(1293, 1049, 'log($P$) = ' + MINUS + '139', fontsize=18, ha='left', va='center')
ft(1078, 1242, 'log($P$) = ' + MINUS + '184', fontsize=18, ha='left', va='center')
ft(1293, 1242, 'log($P$) = ' + MINUS + '103', fontsize=18, ha='left', va='center')
ft(1264, 1072, 'Activated', color=DBLUE, fontsize=17, ha='right', va='center', family=NARROW)
ft(1264, 1091, 'Resting', color='#6cc3e3', fontsize=17, ha='right', va='center', family=NARROW)
ft(1497, 1044, 'Activated', color=HRED, fontsize=17, ha='right', va='center', family=NARROW)
ft(1497, 1065, 'Resting', color=HORANGE, fontsize=17, ha='right', va='center', family=NARROW)
ft(1156, 1009, 'STARR-neg', fontsize=18, ha='center', va='center', family=NARROW)
ft(1372, 1009, 'STARR-pos', fontsize=18, ha='center', va='center', family=NARROW)
ft(1512, 1122, 'H3K4me1', fontsize=18, ha='center', va='center', rotation=-90)
ft(1512, 1304, 'H3K27ac', fontsize=18, ha='center', va='center', rotation=-90)
ft(998, 1223, 'Normalized coverage (RPKM)', fontsize=18, ha='center', va='center', rotation=90)
ft(1287, 1443, 'Distance from peaks (kb)', fontsize=18, ha='center', va='center', family=NARROW)

fig.savefig('out.png', dpi=100)
